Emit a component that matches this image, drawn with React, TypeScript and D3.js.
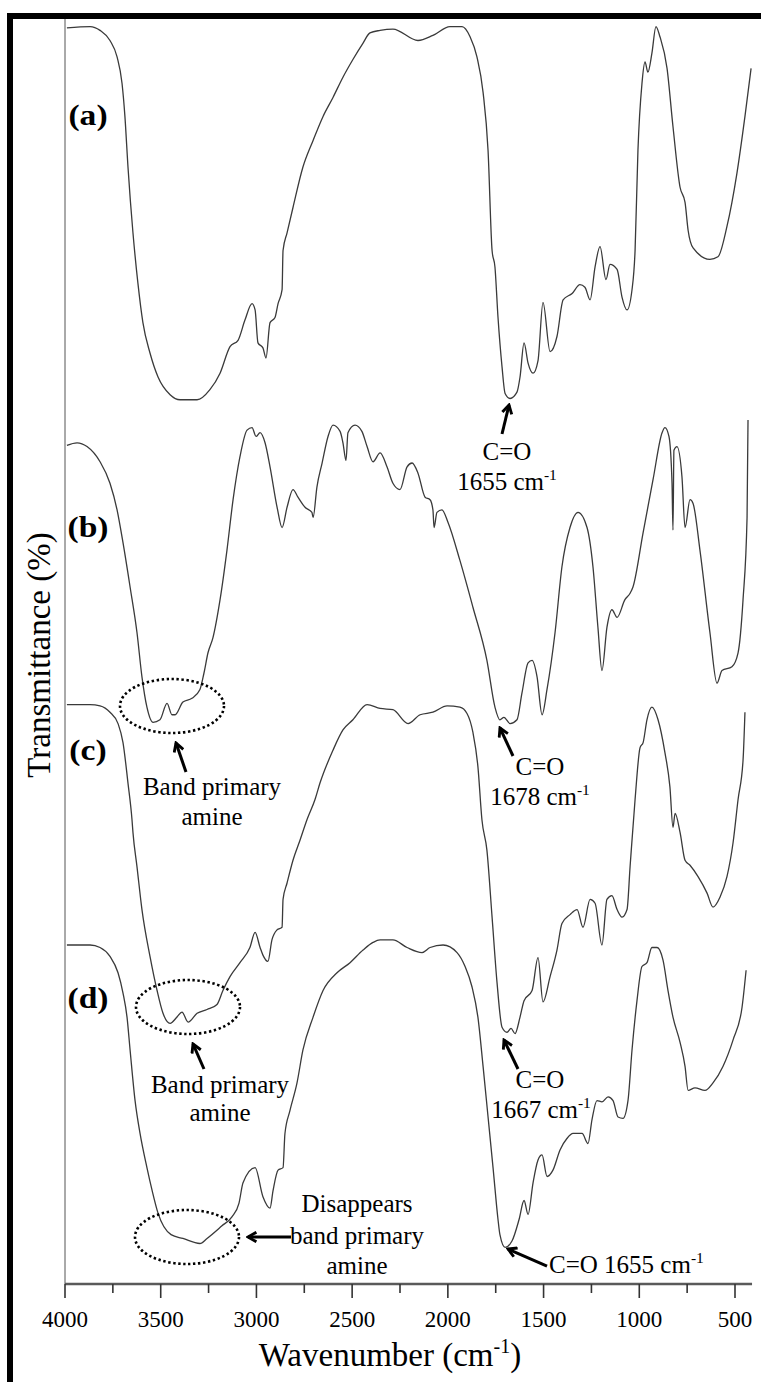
import React from 'react';
import * as d3 from 'd3';

const W = 761;
const H = 1382;
const FONT = '"Liberation Serif", "Times New Roman", serif';

// [wavenumber cm-1, transmittance (stacked, %)]
const spectrumA: [number, number][] = [
  [3990, 99.3], [3869, 99.4], [3817, 99.1], [3765, 98.3], [3728, 97.0], [3702, 94.9], [3687, 92.3],
  [3671, 88.3], [3645, 83.1], [3619, 79.1], [3593, 76.0], [3556, 73.6], [3514, 71.7], [3451, 70.3],
  [3399, 69.9], [3310, 69.9], [3243, 70.7], [3190, 72.0], [3138, 74.1], [3096, 74.6], [3060, 76.2],
  [3023, 77.5], [3007, 77.0], [2992, 74.4], [2966, 74.0], [2950, 73.2], [2929, 76.0], [2903, 76.4],
  [2887, 77.5], [2866, 78.6], [2861, 81.7], [2840, 83.1], [2809, 85.1], [2757, 88.3], [2704, 90.4],
  [2652, 92.3], [2600, 93.8], [2548, 95.4], [2496, 96.8], [2443, 98.1], [2407, 98.9], [2354, 99.1],
  [2287, 99.2], [2156, 98.3], [2078, 98.7], [1989, 99.4], [1926, 99.4], [1884, 98.6], [1848, 97.0],
  [1816, 94.2], [1790, 89.6], [1769, 81.7], [1754, 80.4], [1738, 76.4], [1717, 72.5], [1701, 70.4],
  [1675, 70.0], [1639, 70.5], [1623, 71.7], [1602, 74.4], [1581, 72.8], [1555, 72.0], [1529, 73.0],
  [1503, 77.6], [1466, 73.7], [1430, 74.9], [1398, 77.8], [1351, 78.3], [1310, 79.0], [1284, 78.8],
  [1257, 77.8], [1231, 80.4], [1205, 82.0], [1174, 79.4], [1153, 80.6], [1116, 80.2], [1090, 78.0],
  [1064, 77.0], [1038, 78.6], [1022, 81.7], [1007, 89.6], [986, 94.9], [970, 96.6], [955, 95.8],
  [934, 97.3], [913, 99.4], [892, 98.6], [855, 96.1], [824, 91.5], [787, 86.7], [761, 85.5],
  [745, 83.3], [719, 81.9], [631, 81.0], [589, 81.2], [542, 83.6], [490, 87.8], [448, 92.3], [416, 96.1],
];

const spectrumB: [number, number][] = [
  [3990, 66.3], [3937, 66.5], [3885, 66.2], [3817, 65.0], [3765, 63.3], [3728, 61.2], [3697, 58.6],
  [3660, 55.1], [3624, 51.5], [3598, 48.0], [3572, 45.6], [3540, 44.4], [3504, 44.6], [3467, 45.9],
  [3441, 45.0], [3425, 45.0], [3384, 46.0], [3337, 46.3], [3295, 47.0], [3274, 48.3], [3253, 49.9],
  [3227, 51.1], [3190, 54.1], [3154, 58.0], [3122, 62.0], [3086, 65.4], [3049, 67.5], [3023, 67.7],
  [3002, 67.0], [2981, 67.3], [2955, 66.5], [2929, 64.6], [2892, 61.4], [2866, 59.8], [2840, 61.4],
  [2809, 62.8], [2783, 62.2], [2746, 61.4], [2710, 61.0], [2704, 60.6], [2684, 63.0], [2657, 64.9],
  [2626, 67.0], [2600, 67.9], [2563, 67.4], [2548, 66.5], [2532, 65.1], [2522, 67.3], [2485, 67.9],
  [2449, 67.4], [2422, 66.2], [2391, 65.0], [2354, 65.7], [2318, 64.6], [2287, 63.3], [2250, 62.8],
  [2213, 64.6], [2187, 64.9], [2156, 64.1], [2119, 62.2], [2093, 62.0], [2078, 61.2], [2072, 59.8],
  [2057, 61.0], [2031, 61.2], [1999, 60.2], [1937, 57.2], [1869, 53.5], [1796, 49.3], [1754, 45.6],
  [1728, 44.6], [1707, 44.8], [1675, 44.3], [1639, 44.6], [1613, 46.7], [1581, 49.1], [1560, 49.3],
  [1534, 48.0], [1508, 45.0], [1482, 47.0], [1440, 51.5], [1404, 56.7], [1362, 59.8], [1320, 61.0],
  [1273, 59.8], [1242, 56.7], [1216, 51.9], [1195, 48.5], [1169, 51.9], [1143, 53.3], [1116, 52.7],
  [1075, 54.1], [1048, 54.6], [1033, 55.1], [980, 59.4], [928, 63.6], [881, 67.3], [866, 67.7],
  [845, 67.0], [829, 63.3], [824, 59.6], [819, 65.9], [803, 66.2], [777, 63.8], [761, 59.8],
  [735, 62.0], [719, 61.7], [683, 58.0], [631, 51.5], [594, 47.5], [568, 48.5], [516, 48.8],
  [484, 49.9], [458, 54.1], [437, 60.6], [432, 68.3],
];

const spectrumC: [number, number][] = [
  [3990, 45.8], [3869, 45.8], [3817, 45.7], [3765, 45.2], [3723, 44.3], [3697, 42.8], [3671, 39.6],
  [3650, 36.7], [3645, 35.7], [3624, 33.0], [3598, 29.6], [3556, 25.9], [3519, 23.2], [3488, 21.4],
  [3451, 20.6], [3415, 21.1], [3389, 21.5], [3357, 20.7], [3310, 21.4], [3258, 21.7], [3206, 22.1],
  [3175, 23.2], [3138, 24.3], [3086, 25.4], [3034, 26.6], [3007, 27.8], [2981, 26.6], [2966, 26.0],
  [2940, 25.5], [2919, 27.2], [2892, 28.0], [2866, 28.2], [2861, 30.4], [2840, 31.7], [2809, 33.5],
  [2772, 35.1], [2736, 36.7], [2694, 38.3], [2668, 39.6], [2600, 42.2], [2548, 43.8], [2496, 44.6],
  [2422, 45.8], [2354, 45.5], [2287, 45.4], [2208, 44.3], [2145, 45.0], [2078, 45.2], [2004, 45.7],
  [1937, 45.6], [1900, 45.1], [1869, 43.6], [1843, 40.9], [1822, 36.7], [1796, 34.3], [1769, 29.0],
  [1743, 23.8], [1717, 20.3], [1691, 19.9], [1670, 20.2], [1649, 19.8], [1623, 21.1], [1602, 22.4],
  [1560, 23.2], [1529, 25.8], [1503, 22.3], [1466, 24.3], [1430, 26.4], [1404, 28.5], [1362, 29.2],
  [1325, 29.6], [1294, 28.2], [1257, 30.4], [1231, 30.1], [1195, 26.8], [1169, 30.4], [1143, 30.7],
  [1116, 29.6], [1090, 29.0], [1064, 29.6], [1048, 33.0], [1022, 38.3], [996, 42.4], [980, 42.8],
  [960, 44.6], [934, 45.6], [902, 44.6], [866, 42.0], [840, 39.3], [824, 36.1], [813, 37.2],
  [787, 35.7], [761, 33.5], [735, 33.1], [693, 32.2], [646, 30.9], [615, 29.8], [578, 30.6],
  [542, 32.2], [510, 34.9], [484, 38.3], [458, 41.4], [448, 45.2],
];

const spectrumD: [number, number][] = [
  [3990, 26.8], [3869, 26.8], [3817, 26.6], [3765, 25.9], [3723, 24.6], [3697, 23.0], [3676, 21.1],
  [3660, 18.5], [3634, 14.5], [3608, 11.9], [3572, 9.2], [3545, 7.4], [3514, 5.6], [3446, 3.9],
  [3384, 3.6], [3295, 3.2], [3258, 3.6], [3180, 4.6], [3128, 5.3], [3091, 6.4], [3070, 8.0],
  [3007, 9.2], [2966, 6.9], [2929, 6.0], [2913, 7.4], [2887, 9.0], [2861, 9.2], [2851, 11.9],
  [2825, 13.7], [2788, 15.9], [2757, 18.5], [2704, 21.1], [2652, 23.2], [2579, 24.6], [2511, 25.4],
  [2443, 26.4], [2391, 27.0], [2354, 27.2], [2287, 27.2], [2213, 26.6], [2135, 26.2], [2093, 26.6],
  [2025, 26.8], [1952, 26.2], [1910, 25.1], [1874, 23.5], [1843, 21.1], [1816, 17.2], [1790, 13.2],
  [1764, 9.2], [1738, 5.1], [1728, 3.9], [1701, 2.9], [1665, 3.4], [1628, 5.1], [1602, 6.6],
  [1581, 5.5], [1555, 8.0], [1529, 9.8], [1508, 10.2], [1482, 8.5], [1451, 9.0], [1414, 10.6],
  [1378, 11.5], [1346, 11.9], [1299, 11.9], [1268, 11.1], [1247, 13.0], [1221, 14.5], [1195, 14.4],
  [1163, 14.8], [1137, 14.5], [1111, 13.2], [1085, 13.1], [1059, 14.5], [1038, 18.5], [1012, 22.4],
  [986, 25.1], [960, 25.4], [934, 26.6], [907, 26.6], [876, 25.6], [850, 23.2], [824, 21.1],
  [787, 19.1], [761, 17.2], [745, 15.3], [709, 15.5], [657, 15.3], [615, 15.9], [563, 17.2],
  [510, 19.3], [463, 21.9], [442, 24.8],
];

const spectra = [spectrumA, spectrumB, spectrumC, spectrumD];
const panelLabels = ['(a)', '(b)', '(c)', '(d)'];
const majorTicks = [4000, 3500, 3000, 2500, 2000, 1500, 1000, 500];
const minorTicks = [3750, 3250, 2750, 2250, 1750, 1250, 750];

const x = d3.scaleLinear().domain([4000, 500]).range([65, 735]);
const y = d3.scaleLinear().domain([0, 100]).range([1284, 19]);
const line = d3.line<[number, number]>()
  .x(d => x(d[0]))
  .y(d => y(d[1]))
  .curve(d3.curveMonotoneX);

const AXIS_Y = 1284;
const labelY = [125, 537, 760, 1008];

const T = ({ tx, ty, size, sx = 1, bold = false, anchor = 'middle', rotate = 0, children }: any) => (
  <text
    transform={`translate(${tx},${ty}) rotate(${rotate}) scale(${sx},1)`}
    fontSize={size}
    fontFamily={FONT}
    fontWeight={bold ? 'bold' : 'normal'}
    textAnchor={anchor}
    fill="#000"
  >
    {children}
  </text>
);

const Sup = ({ base, size }: { base: string; size: number }) => (
  <>
    {base}
    <tspan dy={-size * 0.42} fontSize={size * 0.62}>-1</tspan>
  </>
);

const Arrow = ({ x1, y1, x2, y2 }: any) => (
  <line x1={x1} y1={y1} x2={x2} y2={y2} stroke="#000" strokeWidth={3} markerEnd="url(#head)" />
);

const Ring = ({ cx, cy }: any) => (
  <ellipse cx={cx} cy={cy} rx={52} ry={27} fill="none" stroke="#000" strokeWidth={2.6}
    strokeDasharray="2.4 2.6" />
);

export default function App() {
  return (
    <svg width={W} height={H} style={{ position: 'absolute', left: 0, top: 0, background: '#fff' }}>
      <defs>
        <marker id="head" viewBox="0 0 10 10" refX={8} refY={5} markerWidth={12} markerHeight={12}
          markerUnits="userSpaceOnUse" orient="auto">
          <path d="M1,1 L8,5 L1,9" fill="none" stroke="#000" strokeWidth={2.4} />
        </marker>
      </defs>

      {/* frame */}
      <rect x={7} y={13} width={W - 7} height={6} fill="#000" />
      <rect x={7} y={13} width={6} height={H - 13} fill="#000" />

      {/* axes */}
      <line x1={65} y1={19} x2={65} y2={AXIS_Y} stroke="#555" strokeWidth={1} />
      <line x1={65} y1={AXIS_Y} x2={x(411)} y2={AXIS_Y} stroke="#5a5a5a" strokeWidth={2.6} />
      {majorTicks.map(t => (
        <line key={'M' + t} x1={x(t)} x2={x(t)} y1={AXIS_Y} y2={AXIS_Y + 14} stroke="#333" strokeWidth={1.6} />
      ))}
      {minorTicks.map(t => (
        <line key={'m' + t} x1={x(t)} x2={x(t)} y1={AXIS_Y} y2={AXIS_Y + 9} stroke="#333" strokeWidth={1.6} />
      ))}
      {majorTicks.map(t => (
        <T key={'l' + t} tx={x(t)} ty={1327} size={23}>{t}</T>
      ))}
      <T tx={390} ty={1366} size={33}>
        Wavenumber  (cm<tspan dy={-13} fontSize={20}>-1</tspan><tspan dy={13}>)</tspan>
      </T>
      <T tx={50} ty={655} size={33} rotate={-90}>Transmittance  (%)</T>

      {/* spectra */}
      {spectra.map((s, i) => (
        <path key={i} d={line([...s].sort((p, q) => p[0] - q[0])) || ''} fill="none"
          stroke="#3a3a3a" strokeWidth={1.3} />
      ))}
      {panelLabels.map((p, i) => (
        <T key={p} tx={88} ty={labelY[i]} size={30} sx={1.12} bold>{p}</T>
      ))}

      {/* annotations */}
      <Arrow x1={502} y1={434} x2={509} y2={405} />
      <T tx={507} ty={460} size={25}>C=O</T>
      <T tx={507} ty={490} size={25}><Sup base="1655 cm" size={25} /></T>

      <Ring cx={172} cy={706} />
      <Arrow x1={186} y1={772} x2={176} y2={743} />
      <T tx={212} ty={795} size={25}>Band primary</T>
      <T tx={212} ty={825} size={25}>amine</T>

      <Arrow x1={513} y1={756} x2={500} y2={728} />
      <T tx={540} ty={775} size={25}>C=O</T>
      <T tx={540} ty={805} size={25}><Sup base="1678 cm" size={25} /></T>

      <Ring cx={188} cy={1007} />
      <Arrow x1={204} y1={1069} x2={193} y2={1044} />
      <T tx={220} ty={1093} size={25}>Band primary</T>
      <T tx={220} ty={1121} size={25}>amine</T>

      <Arrow x1={518} y1={1069} x2={504} y2={1040} />
      <T tx={540} ty={1088} size={25}>C=O</T>
      <T tx={541} ty={1118} size={25}><Sup base="1667 cm" size={25} /></T>

      <Ring cx={187} cy={1237} />
      <Arrow x1={291} y1={1237} x2={248} y2={1237} />
      <T tx={357} ty={1212} size={25}>Disappears</T>
      <T tx={357} ty={1244} size={25}>band primary</T>
      <T tx={357} ty={1274} size={25}>amine</T>

      <Arrow x1={547} y1={1266} x2={508} y2={1249} />
      <T tx={549} ty={1273} size={25} anchor="start"><Sup base="C=O 1655 cm" size={25} /></T>
    </svg>
  );
}
